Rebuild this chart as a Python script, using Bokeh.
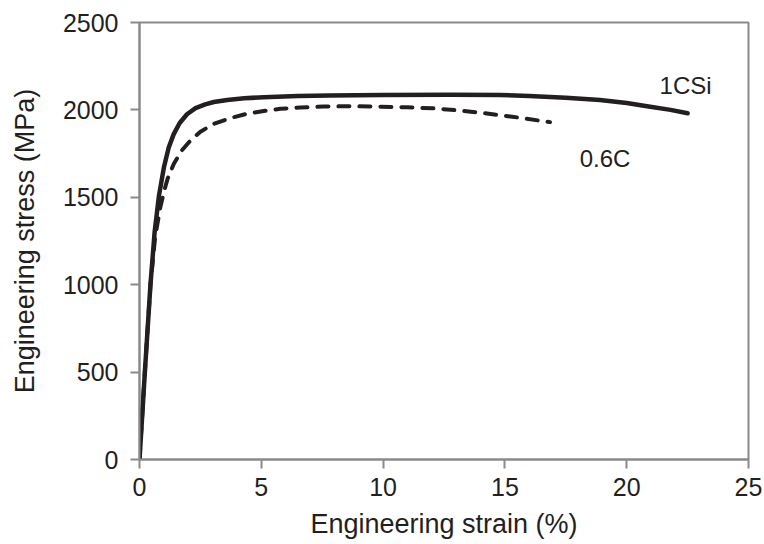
from bokeh.plotting import figure
from bokeh.embed import file_html
from bokeh.resources import INLINE
from bokeh.models import Range1d, FixedTicker, Label

# 1CSi (solid)
strain_1csi = [0.0, 0.22, 0.45, 0.62, 0.8, 1.0, 1.2, 1.4, 1.65, 1.95, 2.3, 2.7, 3.05, 3.6, 4.3, 5.1, 6.5,
               7.8, 10.0, 12.75, 14.8, 16.0, 17.5, 18.9, 20.0, 20.9, 21.8, 22.5]
stress_1csi = [0, 500, 1000, 1300, 1510, 1670, 1785, 1860, 1925, 1975, 2010, 2032, 2045, 2057, 2066, 2073, 2079,
               2082, 2085, 2086, 2085, 2080, 2070, 2056, 2040, 2020, 2000, 1981]

# 0.6C (dashed)
strain_06c = [0.0, 0.22, 0.45, 0.64, 0.85, 1.0, 1.15, 1.41, 1.75, 2.09, 2.5, 3.05, 3.7, 4.41, 5.1, 5.78, 6.6,
              7.55, 8.6, 9.74, 11.0, 12.06, 13.1, 14.1, 15.3, 16.85]
stress_06c = [0, 500, 1000, 1270, 1440, 1530, 1605, 1692, 1770, 1825, 1875, 1920, 1952, 1978, 1994, 2006, 2014,
              2019, 2021, 2019, 2015, 2009, 1997, 1982, 1961, 1930]

x_ticks = [0, 5, 10, 15, 20, 25]
y_ticks = [0, 500, 1000, 1500, 2000, 2500]

labels = ["1CSi", "0.6C"]
label_x = [21.35, 18.07]
label_y = [2140, 1722]

ink = "#231f20"
grey = "#8a8a8a"
font = "Liberation Sans"

p = figure(width=764, height=544, output_backend="svg", toolbar_location=None,
           x_range=Range1d(0, 25), y_range=Range1d(0, 2500),
           min_border_left=139, min_border_right=16, min_border_top=22, min_border_bottom=85)
p.grid.visible = False
p.outline_line_color = grey
p.outline_line_width = 2
p.background_fill_color = "white"
p.border_fill_color = "white"

p.line(strain_1csi, stress_1csi, line_color=ink, line_width=4.5, line_join="round", line_cap="round")
p.line(strain_06c, stress_06c, line_color=ink, line_width=4, line_dash="11 10", line_cap="round", line_join="round")

for ax in (p.xaxis[0], p.yaxis[0]):
    ax.axis_line_color = grey
    ax.axis_line_width = 2
    ax.major_tick_line_color = grey
    ax.major_tick_line_width = 2
    ax.major_tick_in = 0
    ax.major_tick_out = 9
    ax.minor_tick_line_color = None
    ax.major_label_text_font = font
    ax.major_label_text_font_size = "25px"
    ax.major_label_text_color = ink
    ax.axis_label_text_font = font
    ax.axis_label_text_font_size = "27px"
    ax.axis_label_text_font_style = "normal"
    ax.axis_label_text_color = ink

p.xaxis.ticker = FixedTicker(ticks=x_ticks)
p.yaxis.ticker = FixedTicker(ticks=y_ticks)
p.xaxis.axis_label = "Engineering strain (%)"
p.yaxis.axis_label = "Engineering stress (MPa)"
p.xaxis.major_label_standoff = 9
p.yaxis.major_label_standoff = 12
p.xaxis.axis_label_standoff = 10
p.yaxis.axis_label_standoff = 20

for t, x, y in zip(labels, label_x, label_y):
    p.add_layout(Label(x=x, y=y, text=t, text_font=font, text_font_size="24px",
                       text_color=ink, text_baseline="alphabetic", text_align="left"))

open("out.html", "w").write(file_html(p, INLINE))
